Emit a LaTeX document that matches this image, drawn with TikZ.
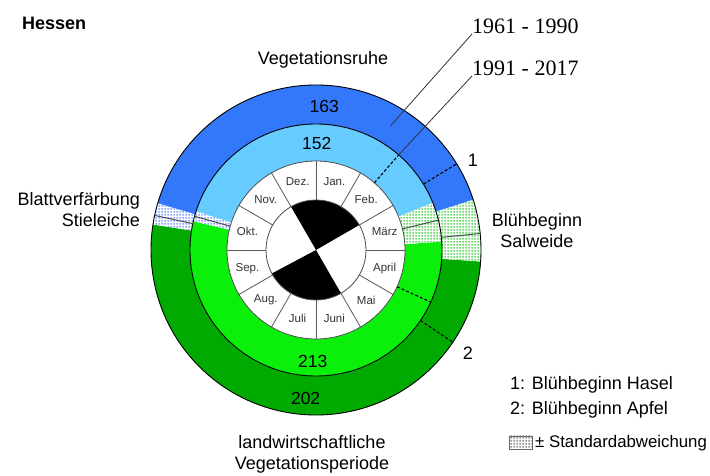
\documentclass[tikz,border=0pt]{standalone}
\usepackage{fontspec}
\setmainfont{Liberation Sans}
\newfontfamily\yearfont{Liberation Serif}
\usetikzlibrary{patterns}
\pgfdeclarepatternformonly{finegrid}{\pgfpoint{0pt}{0pt}}{\pgfpoint{2.5pt}{2.5pt}}{\pgfpoint{2.5pt}{2.5pt}}{%
  \pgfsetlinewidth{0.5pt}%
  \pgfpathmoveto{\pgfpoint{0pt}{1.25pt}}\pgfpathlineto{\pgfpoint{2.5pt}{1.25pt}}%
  \pgfpathmoveto{\pgfpoint{1.25pt}{0pt}}\pgfpathlineto{\pgfpoint{1.25pt}{2.5pt}}%
  \pgfusepath{stroke}}
\definecolor{vrblue}{RGB}{51,119,250}
\definecolor{vrlight}{RGB}{102,204,255}
\definecolor{vpdark}{RGB}{0,170,0}
\definecolor{vplight}{RGB}{10,240,10}
\definecolor{hgreen}{RGB}{40,200,40}
\definecolor{hblue}{RGB}{90,130,255}
\begin{document}
\begin{tikzpicture}[x=1pt,y=1pt,
  ann/.style n args={4}{insert path={(#1:#3) arc[start angle=#1,end angle=#2,radius=#3] -- (#2:#4) arc[start angle=#2,end angle=#1,radius=#4] -- cycle}},
  lbl/.style={font=\fontsize{18}{21}\selectfont, inner sep=0pt},
  num/.style={font=\fontsize{17.5}{20}\selectfont, inner sep=0pt},
  month/.style={font=\fontsize{11.5}{13}\selectfont, text=black!80, inner sep=0pt},
  year/.style={font=\yearfont\fontsize{22}{26}\selectfont, inner sep=0pt},
  ring/.style={draw=black, line width=0.9pt},
  meanline/.style={draw=black!70, line width=1pt},
  marker/.style={draw=black, line width=1.1pt, dash pattern=on 3pt off 2pt},
  leader/.style={draw=black!80, line width=0.8pt}]
\useasboundingbox (0,0) rectangle (710,476);
\coordinate (c) at (316,226);
\begin{scope}[shift={(316,226)}]
  % outer ring 1961-1990
  \fill[vrblue, ann={17.7}{163.6}{126}{165}];
  \fill[vpdark, ann={171.1}{356}{126}{165}];
  \fill[white, ann={163.6}{171.1}{126}{165}];
  \fill[pattern=finegrid, pattern color=hblue, ann={163.6}{171.1}{126}{165}];
  \fill[white, ann={-4}{17.7}{126}{165}];
  \fill[pattern=finegrid, pattern color=hgreen, ann={-4}{17.7}{126}{165}];
  % inner ring 1991-2017
  \fill[vrlight, ann={22}{162.1}{89}{126}];
  \fill[vplight, ann={166.8}{363.8}{89}{126}];
  \fill[white, ann={162.1}{166.8}{89}{126}];
  \fill[pattern=finegrid, pattern color=hblue, ann={162.1}{166.8}{89}{126}];
  \fill[white, ann={3.8}{22}{89}{126}];
  \fill[pattern=finegrid, pattern color=hgreen, ann={3.8}{22}{89}{126}];
  % month ring and pie
  \fill[white] (0,0) circle[radius=89];
  \fill[black] (0,0) -- (30:50) arc[start angle=30, end angle=120, radius=50] -- cycle;
  \fill[black] (0,0) -- (208:50) arc[start angle=208, end angle=300, radius=50] -- cycle;
  \foreach \a in {0,30,...,330} \draw[black!65, line width=0.8pt] (\a:50) -- (\a:89);
  \foreach \m [count=\i] in {Jan.,Feb.,März,April,Mai,Juni,Juli,Aug.,Sep.,Okt.,Nov.,Dez.}
    \node[month] (m\i) at ({105-30*\i}:71) {\m};
  % circles
  \draw[ring] (0,0) circle[radius=165];
  \draw[ring] (0,0) circle[radius=126];
  \draw[black!70, line width=0.8pt] (0,0) circle[radius=89];
  \draw[black!70, line width=0.8pt] (0,0) circle[radius=50];
  % mean lines in hatches
  \draw[meanline] (5.75:126) -- (5.75:165);
  \draw[meanline] (13.7:89) -- (13.7:126);
  \draw[meanline] (167.9:126) -- (167.9:165);
  \draw[meanline] (164.5:89) -- (164.5:126);
  % markers 1 and 2
  \coordinate (h1a) at (31.5:126); \coordinate (h1b) at (31.5:165);
  \coordinate (h2a) at (49:89);    \coordinate (h2b) at (49:126);
  \coordinate (a1a) at (-34:126);  \coordinate (a1b) at (-34:165);
  \coordinate (a2a) at (-24.4:89); \coordinate (a2b) at (-24.4:126);
  \coordinate (e61) at (59:145);
  \draw[marker] (h1a) -- (h1b);
  \draw[marker] (h2a) -- (h2b);
  \draw[marker] (a1a) -- (a1b);
  \draw[marker] (a2a) -- (a2b);
  % numbers
  \node[num] (n163) at (86.7:143.6) {163};
  \node[num] (n152) at (89.6:106.7) {152};
  \node[num] (n213) at (-91.7:111.7) {213};
  \node[num] (n202) at (-94:148.7) {202};
\end{scope}
% year labels and leaders
\node[year, anchor=base west] (y61) at (472,442) {1961 - 1990};
\node[year, anchor=base west] (y91) at (472,400) {1991 - 2017};
\draw[leader] (y61.base west) -- (e61);
\draw[leader] (y91.base west) -- (h2b);
% labels
\node[lbl, font=\bfseries\fontsize{18}{21}\selectfont, anchor=west] (hessen) at (22,453) {Hessen};
\node[lbl] (ruhe) at (323,416) {Vegetationsruhe};
\node[lbl, align=right, anchor=east] (blatt) at (140,266) {Blattverfärbung\\Stieleiche};
\node[lbl, align=center] (salw) at (537,245) {Blühbeginn\\Salweide};
\node[lbl, align=center] (periode) at (312,22) {landwirtschaftliche\\Vegetationsperiode};
\node[lbl] (one) at (473,316) {1};
\node[lbl] (two) at (468,123) {2};
% legend
\node[lbl, anchor=west] (leg1) at (510,91) {1: Blühbeginn Hasel};
\node[lbl, anchor=west] (leg2) at (510,66) {2: Blühbeginn Apfel};
\fill[white] (509,27) rectangle (532,40);
\fill[pattern=finegrid, pattern color=black!60] (509,27) rectangle (532,40);
\draw[black!60, line width=0.6pt] (509,27) rectangle (532,40);
\node[lbl, font=\fontsize{16.8}{20}\selectfont, anchor=west] (leg3) at (535,33) {± Standardabweichung};
\end{tikzpicture}
\end{document}
